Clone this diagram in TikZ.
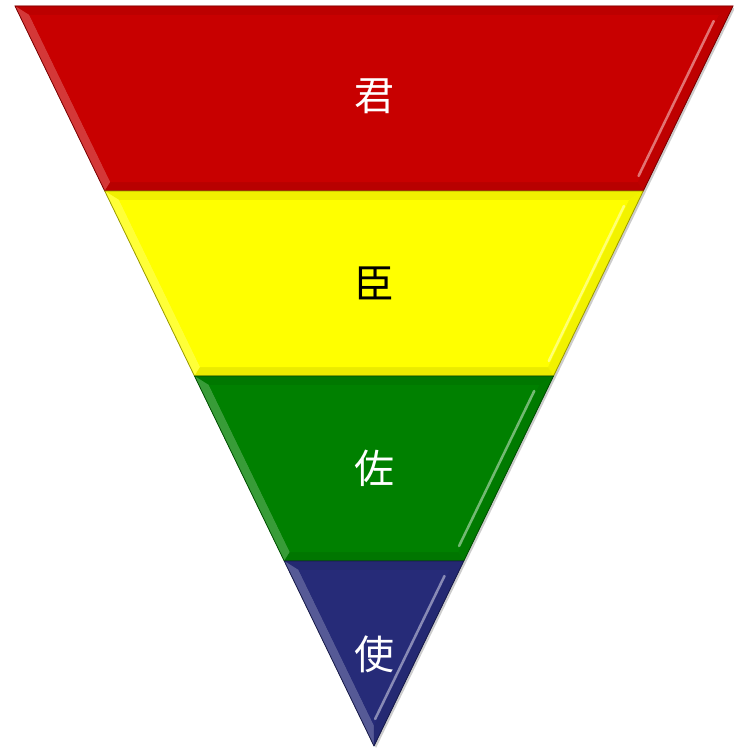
\documentclass[tikz,border=0pt]{standalone}
\usepackage{fontspec}
\newfontfamily\cjk{Noto Sans CJK SC}
\definecolor{cred}{HTML}{C80000}
\definecolor{cyellow}{HTML}{FFFF00}
\definecolor{cgreen}{HTML}{008000}
\definecolor{cblue}{HTML}{262B78}
% #1 top y, #2 bottom y, #3 inner bottom y, #4 colour
\newcommand\drawband[4]{%
  \pgfmathsetmacro\Lt{15+(#1-6)*0.4851}%
  \pgfmathsetmacro\Rt{733-(#1-6)*0.4851}%
  \pgfmathsetmacro\Lb{15+(#2-6)*0.4851}%
  \pgfmathsetmacro\Rb{733-(#2-6)*0.4851}%
  \pgfmathsetmacro\yt{#1+9}%
  \pgfmathsetmacro\yb{#3}%
  \pgfmathsetmacro\iLt{15+(\yt-6)*0.4851+10}%
  \pgfmathsetmacro\iRt{733-(\yt-6)*0.4851-10}%
  \pgfmathsetmacro\iLb{15+(\yb-6)*0.4851+10}%
  \pgfmathsetmacro\iRb{733-(\yb-6)*0.4851-10}%
  \pgfmathsetmacro\hyt{\yt+6}%
  \pgfmathsetmacro\hyb{\yb-6}%
  \pgfmathsetmacro\hRt{733-(\hyt-6)*0.4851-12}%
  \pgfmathsetmacro\hRb{733-(\hyb-6)*0.4851-12}%
  % base
  \fill[#4] (\Lt,#1) -- (\Rt,#1) -- (\Rb,#2) -- (\Lb,#2) -- cycle;
  % top bevel (slightly dark)
  \fill[#4!94!black] (\Lt,#1) -- (\Rt,#1) -- (\iRt,\yt) -- (\iLt,\yt) -- cycle;
  % left bevel (light)
  \fill[#4!78!white] (\Lt,#1) -- (\iLt,\yt) -- (\iLb,\yb) -- (\Lb,#2) -- cycle;
  % right bevel (base)
  \fill[#4!95!black] (\Rt,#1) -- (\Rb,#2) -- (\iRb,\yb) -- (\iRt,\yt) -- cycle;
  % bottom bevel (dark, subtle)
  \fill[#4!92!black] (\Lb,#2) -- (\iLb,\yb) -- (\iRb,\yb) -- (\Rb,#2) -- cycle;
  % inner face
  \fill[#4] (\iLt,\yt) -- (\iRt,\yt) -- (\iRb,\yb) -- (\iLb,\yb) -- cycle;
  % highlight near the right inner edge
  \draw[#4!55!white, line width=2.5pt, line cap=round] (\hRt,\hyt) -- (\hRb,\hyb);
  % outline
  \draw[#4!60!black, line width=0.8pt, line join=miter] (\Lt,#1) -- (\Rt,#1) -- (\Rb,#2) -- (\Lb,#2) -- cycle;
}
\begin{document}
\begin{tikzpicture}[x=1pt, y=-1pt,
  lbl/.style={font=\cjk\fontsize{40}{40}\selectfont, inner sep=0pt}]
\useasboundingbox (0,0) rectangle (733,749);
\fill[black!20] (17,8) -- (735,8) -- (376,748) -- cycle;
\drawband{6}{191}{182}{cred}
\drawband{191}{376}{367}{cyellow}
\drawband{376}{561}{552}{cgreen}
\drawband{561}{746}{725}{cblue}
\node[lbl, text=white] (jun) at (374,96) {君};
\node[lbl, text=black] (chen) at (374,283) {臣};
\node[lbl, text=white] (zuo) at (374,468) {佐};
\node[lbl, text=white] (shi) at (374,654) {使};
\end{tikzpicture}
\end{document}
